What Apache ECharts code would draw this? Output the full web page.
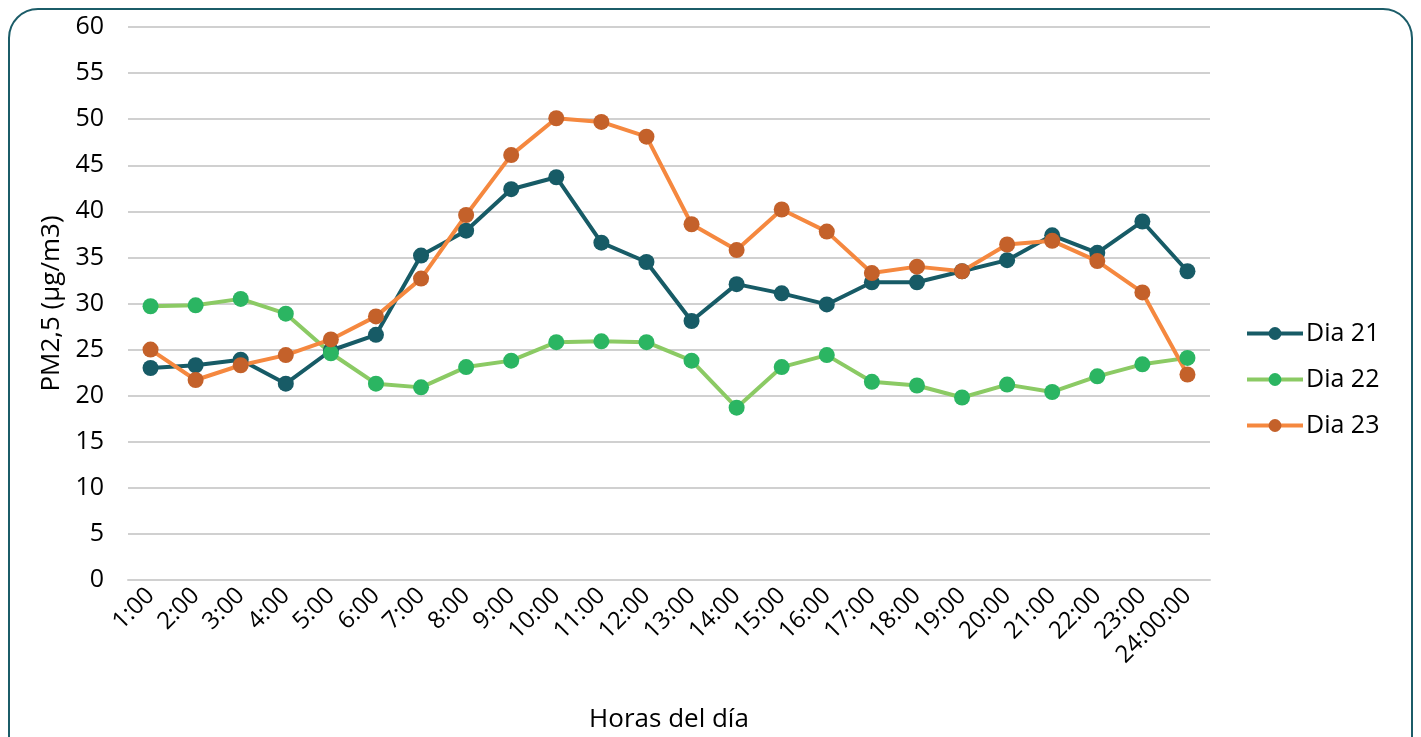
<!DOCTYPE html>
<html>
<head>
<meta charset="utf-8">
<script src="https://cdn.jsdelivr.net/npm/echarts@6/dist/echarts.min.js"></script>
<style>
html,body{margin:0;padding:0;background:#fff;overflow:hidden;}
#frame{position:absolute;left:8px;top:8px;width:1401px;height:780px;border:2px solid #1b5c68;border-radius:30px;}
#chart{position:absolute;left:0;top:0;width:1421px;height:737px;}
</style>
</head>
<body>
<div id="frame"></div>
<div id="chart"></div>
<script>
const categories = ['1:00','2:00','3:00','4:00','5:00','6:00','7:00','8:00','9:00','10:00','11:00','12:00','13:00','14:00','15:00','16:00','17:00','18:00','19:00','20:00','21:00','22:00','23:00','24:00:00'];
const dia21 = [23.0,23.3,23.9,21.3,24.9,26.6,35.2,37.9,42.4,43.7,36.6,34.5,28.1,32.1,31.1,29.9,32.3,32.3,33.5,34.7,37.4,35.5,38.9,33.5];
const dia22 = [29.7,29.8,30.5,28.9,24.6,21.3,20.9,23.1,23.8,25.8,25.9,25.8,23.8,18.7,23.1,24.4,21.5,21.1,19.8,21.2,20.4,22.1,23.4,24.1];
const dia23 = [25.0,21.7,23.3,24.4,26.1,28.6,32.7,39.6,46.1,50.1,49.7,48.1,38.6,35.8,40.2,37.8,33.3,34.0,33.5,36.4,36.8,34.6,31.2,22.3];
const seriesNames = ['Dia 21','Dia 22','Dia 23'];

const font = '"Open Sans", "Noto Sans", sans-serif';
const chart = echarts.init(document.getElementById('chart'));
function mk(name, data, lineColor, markColor){
  return {
    name: name, type: 'line', data: data,
    symbol: 'circle', symbolSize: 16,
    lineStyle: {color: lineColor, width: 4},
    itemStyle: {color: markColor},
    emphasis: {disabled: true},
    animation: false
  };
}
chart.setOption({
  backgroundColor: 'transparent',
  textStyle: {fontFamily: font},
  grid: {left: 128, right: 211, top: 27, bottom: 157, outerBoundsMode: 'none', containLabel: false},
  legend: {
    orient: 'vertical', left: 1240, top: 316, itemGap: 21,
    itemWidth: 56, itemHeight: 16,
    lineStyle: {width: 4},
    textStyle: {fontSize: 25, color: '#000', fontFamily: font, padding: [0,0,0,-2]},
    data: seriesNames
  },
  xAxis: {
    type: 'category', data: categories, boundaryGap: true,
    name: 'Horas del día', nameLocation: 'middle', nameGap: 127,
    nameTextStyle: {fontSize: 26, color: '#000', fontFamily: font},
    axisLine: {show: true, lineStyle: {color: '#d0d0d0', width: 2}},
    axisTick: {show: false},
    axisLabel: {rotate: 45, fontSize: 24, color: '#000', fontFamily: font, interval: 0, margin: 12}
  },
  yAxis: {
    type: 'value', min: 0, max: 60, interval: 5,
    name: 'PM2,5 (µg/m3)', nameLocation: 'middle', nameGap: 60, nameRotate: 90,
    nameTextStyle: {fontSize: 26, color: '#000', fontFamily: font},
    axisLine: {show: false}, axisTick: {show: false},
    axisLabel: {fontSize: 25, color: '#000', fontFamily: font, margin: 24},
    splitLine: {lineStyle: {color: '#d0d0d0', width: 2}}
  },
  series: [
    mk(seriesNames[0], dia21, '#175b66', '#175b66'),
    mk(seriesNames[1], dia22, '#8bca64', '#2bb562'),
    mk(seriesNames[2], dia23, '#f5883f', '#c4612a')
  ]
});
</script>
</body>
</html>
